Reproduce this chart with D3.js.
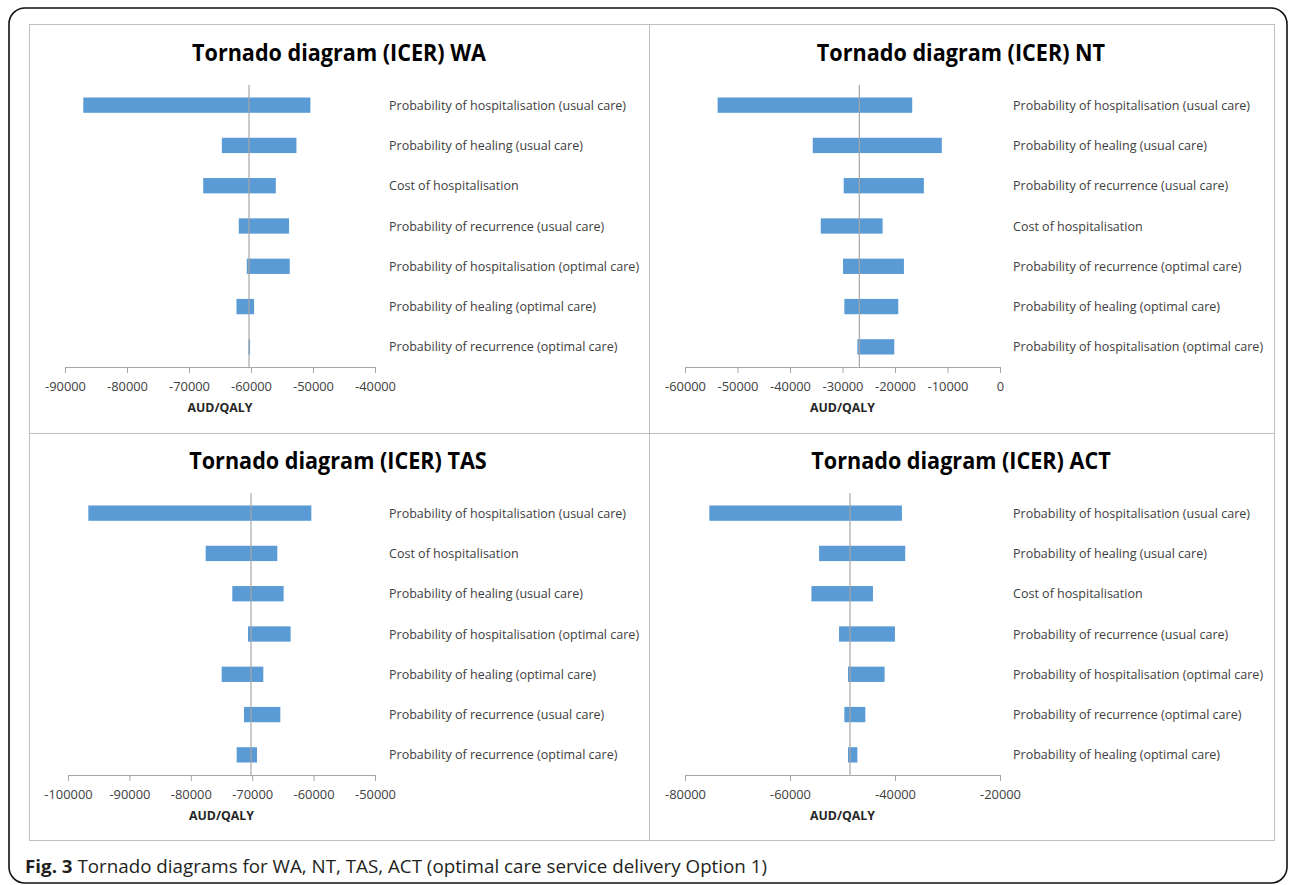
<!DOCTYPE html>
<html>
<head>
<meta charset="utf-8">
<script src="https://cdn.jsdelivr.net/npm/d3@7"></script>
<style>
html,body{margin:0;padding:0;background:#fff;}
svg{display:block;}
</style>
</head>
<body>
<svg id="c" width="1292" height="885"></svg>
<script>
// ---------- DATA ----------
const waTitle = "Tornado diagram (ICER) WA";
const waLabels = ["Probability of hospitalisation (usual care)","Probability of healing (usual care)","Cost of hospitalisation","Probability of recurrence (usual care)","Probability of hospitalisation (optimal care)","Probability of healing (optimal care)","Probability of recurrence (optimal care)"];
const waLow  = [-87050,-64700,-67710,-61970,-60680,-62340,-60400];
const waHigh = [-50420,-52670,-56000,-53860,-53750,-59500,-60150];
const waBase = -60320;
const waTicks = [-90000,-80000,-70000,-60000,-50000,-40000];

const ntTitle = "Tornado diagram (ICER) NT";
const ntLabels = ["Probability of hospitalisation (usual care)","Probability of healing (usual care)","Probability of recurrence (usual care)","Cost of hospitalisation","Probability of recurrence (optimal care)","Probability of healing (optimal care)","Probability of hospitalisation (optimal care)"];
const ntLow  = [-53790,-35670,-29770,-34140,-29900,-29650,-27170];
const ntHigh = [-16720,-11080,-14500,-22360,-18300,-19380,-20140];
const ntBase = -26790;
const ntTicks = [-60000,-50000,-40000,-30000,-20000,-10000,0];

const tasTitle = "Tornado diagram (ICER) TAS";
const tasLabels = ["Probability of hospitalisation (usual care)","Cost of hospitalisation","Probability of healing (usual care)","Probability of hospitalisation (optimal care)","Probability of healing (optimal care)","Probability of recurrence (usual care)","Probability of recurrence (optimal care)"];
const tasLow  = [-96690,-77580,-73240,-70680,-74970,-71340,-72530];
const tasHigh = [-60370,-65910,-64880,-63740,-68190,-65420,-69220];
const tasBase = -70200;
const tasTicks = [-100000,-90000,-80000,-70000,-60000,-50000];

const actTitle = "Tornado diagram (ICER) ACT";
const actLabels = ["Probability of hospitalisation (usual care)","Probability of healing (usual care)","Cost of hospitalisation","Probability of recurrence (usual care)","Probability of hospitalisation (optimal care)","Probability of recurrence (optimal care)","Probability of healing (optimal care)"];
const actLow  = [-75370,-54460,-55920,-50660,-48950,-49650,-48950];
const actHigh = [-38680,-38050,-44200,-40010,-41980,-45650,-47170];
const actBase = -48570;
const actTicks = [-80000,-60000,-40000,-20000];

const axisTitle = "AUD/QALY";
const captionBold = "Fig. 3";
const captionText = " Tornado diagrams for WA, NT, TAS, ACT (optimal care service delivery Option 1)";

// ---------- LAYOUT ----------
const svg = d3.select("#c");
const FONT = "'Open Sans', 'DejaVu Sans', sans-serif";
const BAR = "#5b9bd5";

function measure(txt, size, weight){
  const t = svg.append("text").attr("font-family",FONT).attr("font-size",size).attr("font-weight",weight).text(txt);
  const w = t.node().getComputedTextLength();
  t.remove();
  return w;
}
// horizontal squeeze factors (reference font is narrower than Open Sans)
const labelF = 237 / measure("Probability of hospitalisation (usual care)", 12.6, 400);
const titleF = 294 / measure(waTitle, 22.8, 700);
const tickF  = 41 / measure("-60000", 12.6, 400);
const axTF   = 65 / measure(axisTitle, 12.6, 700);

function squeeze(sel, f){
  sel.each(function(){
    const w = this.getComputedTextLength();
    this.setAttribute("textLength", w*f);
    this.setAttribute("lengthAdjust","spacingAndGlyphs");
  });
}

// outer rounded border
svg.append("rect").attr("x",9).attr("y",8).attr("width",1278).attr("height",875)
  .attr("rx",16).attr("fill","none").attr("stroke","#111").attr("stroke-width",1.6);

// panel frames
const frame = svg.append("g").attr("fill","none").attr("stroke","#bfbfbf").attr("stroke-width",1);
frame.append("rect").attr("x",29.5).attr("y",24.5).attr("width",1245).attr("height",816);
frame.append("line").attr("x1",649.5).attr("x2",649.5).attr("y1",24.5).attr("y2",840.5);
frame.append("line").attr("x1",29.5).attr("x2",1274.5).attr("y1",433.5).attr("y2",433.5);

const panels = [
  {title:waTitle, labels:waLabels, low:waLow, high:waHigh, base:waBase, ticks:waTicks, x0:65, x1:375, tx:339, labelX:389, top:0},
  {title:ntTitle, labels:ntLabels, low:ntLow, high:ntHigh, base:ntBase, ticks:ntTicks, x0:685, x1:1000, tx:961, labelX:1013, top:0},
  {title:tasTitle, labels:tasLabels, low:tasLow, high:tasHigh, base:tasBase, ticks:tasTicks, x0:68, x1:375, tx:338, labelX:389, top:408},
  {title:actTitle, labels:actLabels, low:actLow, high:actHigh, base:actBase, ticks:actTicks, x0:685, x1:1000, tx:961, labelX:1013, top:408}
];

panels.forEach(p => {
  const g = svg.append("g").attr("transform", `translate(0,${p.top})`);
  const x = d3.scaleLinear().domain([p.ticks[0], p.ticks[p.ticks.length-1]]).range([p.x0, p.x1]);
  const y = d3.scaleBand().domain(d3.range(p.labels.length)).range([85, 367]).paddingInner(0.62).paddingOuter(0.31);

  // title
  g.append("text").attr("x",p.tx).attr("y",61).attr("text-anchor","middle")
    .attr("font-family",FONT).attr("font-size",22.8).attr("font-weight",700).attr("fill","#000")
    .text(p.title).call(squeeze, titleF);

  // bars
  g.selectAll("rect.bar").data(p.labels.map((l,i)=>({l, lo:p.low[i], hi:p.high[i], i})))
    .join("rect").attr("class","bar")
    .attr("x", d => x(Math.min(d.lo,d.hi)))
    .attr("width", d => Math.max(1, Math.abs(x(d.hi)-x(d.lo))))
    .attr("y", d => y(d.i)).attr("height", y.bandwidth())
    .attr("fill", BAR);

  // base line
  g.append("line").attr("x1",x(p.base)).attr("x2",x(p.base)).attr("y1",85).attr("y2",367)
    .attr("stroke","#a6a6a6").attr("stroke-width",1.2);

  // axis
  const ax = g.append("g").attr("transform","translate(0,367)")
    .call(d3.axisBottom(x).tickValues(p.ticks).tickFormat(d3.format("d")).tickSize(6).tickSizeOuter(0).tickPadding(9));
  ax.select(".domain").attr("stroke","#a6a6a6");
  ax.selectAll(".tick line").attr("stroke","#a6a6a6");
  ax.selectAll(".tick text").attr("font-family",FONT).attr("font-size",12.6).attr("fill","#404040")
    .text(d => d3.format("d")(d).replace("\u2212","-")).call(squeeze, tickF);

  // axis title
  g.append("text").attr("x",(p.x0+p.x1)/2).attr("y",412).attr("text-anchor","middle")
    .attr("font-family",FONT).attr("font-size",12.6).attr("font-weight",700).attr("fill","#262626")
    .text(axisTitle).call(squeeze, axTF);

  // category labels
  g.selectAll("text.lab").data(p.labels).join("text").attr("class","lab")
    .attr("x",p.labelX).attr("y",(d,i)=>y(i)+y.bandwidth()/2).attr("dy","0.36em")
    .attr("font-family",FONT).attr("font-size",12.6).attr("fill","#404040")
    .text(d=>d).call(squeeze, labelF);
});

// caption
const cap = svg.append("text").attr("x",25).attr("y",872.5).attr("font-family",FONT).attr("font-size",17.5).attr("fill","#231f20");
cap.append("tspan").attr("font-weight",700).text(captionBold);
cap.append("tspan").attr("font-weight",400).text(captionText);
cap.attr("textLength",742).attr("lengthAdjust","spacingAndGlyphs");
</script>
</body>
</html>
